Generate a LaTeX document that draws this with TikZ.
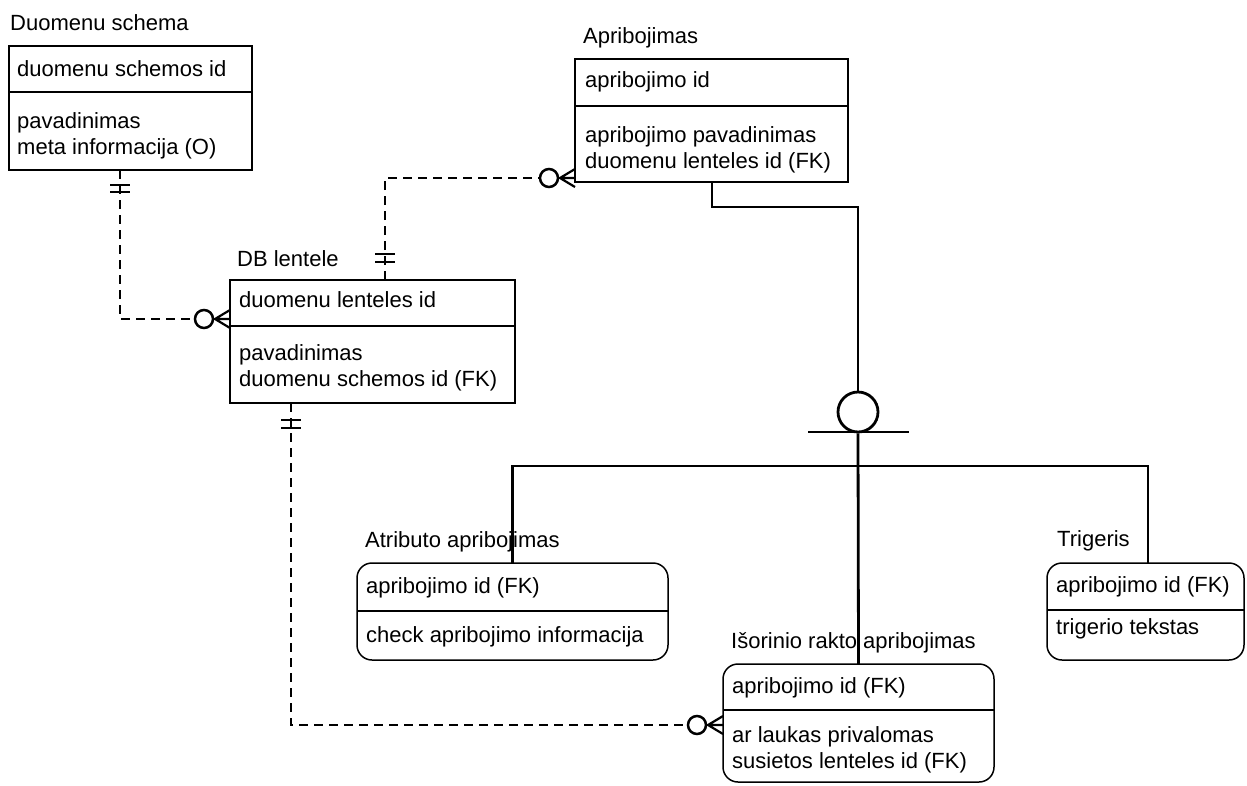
\documentclass[tikz,border=0pt]{standalone}
\usepackage{fontspec}
\setmainfont{Liberation Sans}
\usetikzlibrary{calc}
\begin{document}
\begin{tikzpicture}[x=1pt,y=-1pt,
  ent/.style={draw, line width=1.5pt, anchor=north west, inner sep=0pt, outer sep=0pt},
  subent/.style={ent, rounded corners=15pt},
  divider/.style={line width=1.5pt},
  txt/.style={anchor=base west, inner sep=0pt, font=\fontsize{22}{26}\selectfont},
  rel/.style={line width=2.8pt, dash pattern=on 9pt off 6pt},
  sub/.style={line width=2.8pt},
  barline/.style={line width=2.8pt},
  crow/.style={line width=2.2pt},
  ring/.style={draw, circle, fill=white, line width=2.5pt, minimum size=18pt, inner sep=0pt}
]
\useasboundingbox (0,0) rectangle (1247,785);

% ---------- entities ----------
% Duomenu schema
\node[ent, minimum width=243pt, minimum height=124pt] (dsch) at (9,46) {};
\draw[divider] ($(dsch.north west)+(0,46)$) -- ($(dsch.north east)+(0,46)$);
\node[txt] (dschT) at (10,30) {Duomenu schema};
\node[txt] (dschA) at (17,76) {duomenu schemos id};
\node[txt] (dschB) at (17,128) {pavadinimas};
\node[txt] (dschC) at (17,154) {meta informacija (O)};

% Apribojimas
\node[ent, minimum width=273pt, minimum height=123pt] (aprib) at (575,59) {};
\draw[divider] ($(aprib.north west)+(0,47)$) -- ($(aprib.north east)+(0,47)$);
\node[txt] (apribT) at (583,43) {Apribojimas};
\node[txt] (apribA) at (585,87) {apribojimo id};
\node[txt] (apribB) at (585,142) {apribojimo pavadinimas};
\node[txt] (apribC) at (585,168) {duomenu lenteles id (FK)};

% DB lentele
\node[ent, minimum width=285pt, minimum height=123pt] (dbl) at (230,280) {};
\draw[divider] ($(dbl.north west)+(0,46)$) -- ($(dbl.north east)+(0,46)$);
\node[txt] (dblT) at (237,266) {DB lentele};
\node[txt] (dblA) at (239,307) {duomenu lenteles id};
\node[txt] (dblB) at (239,360) {pavadinimas};
\node[txt] (dblC) at (239,386) {duomenu schemos id (FK)};

% Atributo apribojimas
\node[subent, minimum width=311pt, minimum height=97pt] (attr) at (357,563) {};
\draw[divider] ($(attr.north west)+(0,48)$) -- ($(attr.north east)+(0,48)$);
\node[txt] (attrT) at (365,547) {Atributo apribojimas};
\node[txt] (attrA) at (366,593) {apribojimo id (FK)};
\node[txt] (attrB) at (366,642) {check apribojimo informacija};

% Trigeris
\node[subent, minimum width=197pt, minimum height=97pt] (trig) at (1047,563) {};
\draw[divider] ($(trig.north west)+(0,47)$) -- ($(trig.north east)+(0,47)$);
\node[txt] (trigT) at (1057,546) {Trigeris};
\node[txt] (trigA) at (1056,592) {apribojimo id (FK)};
\node[txt] (trigB) at (1056,634) {trigerio tekstas};

% Isorinio rakto apribojimas
\node[subent, minimum width=271pt, minimum height=118pt] (isor) at (723,664) {};
\draw[divider] ($(isor.north west)+(0,46)$) -- ($(isor.north east)+(0,46)$);
\node[txt] (isorT) at (731,648) {Išorinio rakto apribojimas};
\node[txt] (isorA) at (732,693) {apribojimo id (FK)};
\node[txt] (isorB) at (732,742) {ar laukas privalomas};
\node[txt] (isorC) at (732,768) {susietos lenteles id (FK)};

% ---------- subtype cluster ----------
\node[draw, circle, line width=2.8pt, minimum size=40pt, inner sep=0pt] (cat) at (858,412) {};
\coordinate (catL) at (808,432);
\coordinate (catR) at (909,432);
\coordinate (split) at (858,466);
\draw[sub] (catL) -- (catR);
\draw[sub] ($(aprib.south west)+(137,0)$) -- ++(0,25) -| (cat.north);
\draw[sub] (cat.south) -- (isor.north);
\draw[sub] (attr.north) |- (split) -| ($(trig.north west)+(101,0)$);

% ---------- relationships ----------
% Duomenu schema 1 -- 0..* DB lentele
\draw[rel] ($(dsch.south west)+(111,0)$) |- ($(dbl.north west)+(0,39)$);
\draw[barline] (110,185) -- (130,185) (110,192) -- (130,192);
\node[ring] (r1) at (204,319) {};
\draw[crow] (215,319) -- (230,310) (215,319) -- (230,319) (215,319) -- (230,328);

% DB lentele 1 -- 0..* Apribojimas
\draw[rel] ($(dbl.north west)+(155,0)$) |- ($(aprib.south west)+(0,-4)$);
\draw[barline] (375,254) -- (395,254) (375,262) -- (395,262);
\node[ring] (r2) at (549,178) {};
\draw[crow] (560,178) -- (575,169) (560,178) -- (575,178) (560,178) -- (575,187);

% DB lentele 1 -- 0..* Isorinio rakto apribojimas
\draw[rel] ($(dbl.south west)+(61,0)$) |- ($(isor.north west)+(0,61)$);
\draw[barline] (281,420) -- (301,420) (281,428) -- (301,428);
\node[ring] (r3) at (697,725) {};
\draw[crow] (708,725) -- (723,716) (708,725) -- (723,725) (708,725) -- (723,734);
\end{tikzpicture}
\end{document}
